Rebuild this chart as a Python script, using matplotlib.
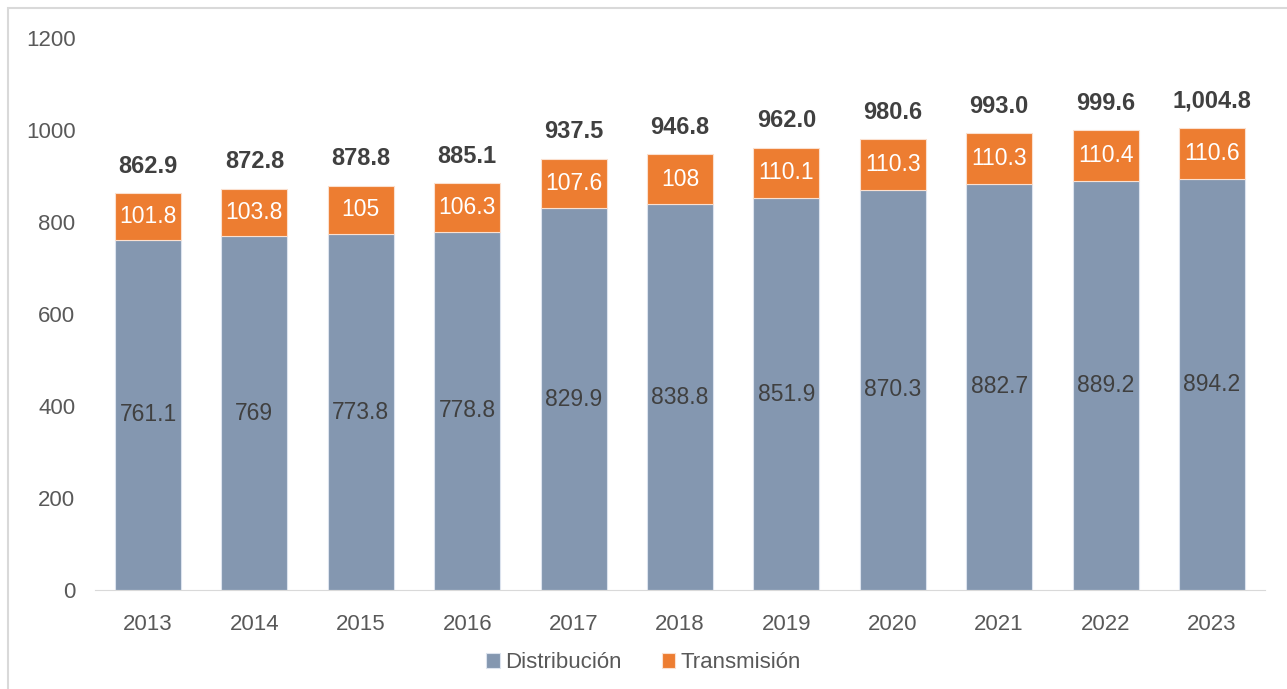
import matplotlib.pyplot as plt
from matplotlib.patches import Rectangle
import numpy as np

plt.rcParams["font.family"] = ["Liberation Sans", "DejaVu Sans"]

# data
years = ["2013", "2014", "2015", "2016", "2017", "2018", "2019", "2020", "2021", "2022", "2023"]
distribucion = [761.1, 769, 773.8, 778.8, 829.9, 838.8, 851.9, 870.3, 882.7, 889.2, 894.2]
transmision = [101.8, 103.8, 105, 106.3, 107.6, 108, 110.1, 110.3, 110.3, 110.4, 110.6]
totales = ["862.9", "872.8", "878.8", "885.1", "937.5", "946.8", "962.0", "980.6", "993.0", "999.6", "1,004.8"]

blue = "#8497B0"
orange = "#ED7D31"
gray = "#595959"

fig = plt.figure(figsize=(12.87, 6.89), dpi=100)
ax = fig.add_axes([0.0737, 0.1437, 0.9093, 0.8011])

x = np.arange(len(years))
w = 0.62
b1 = ax.bar(x, distribucion, w, color=blue, edgecolor="#DCE3EE", linewidth=0.8, label="Distribución")
b2 = ax.bar(x, transmision, w, bottom=distribucion, color=orange, edgecolor="#FBE0CF", linewidth=0.8,
            label="Transmisión")

for i in range(len(years)):
    d = distribucion[i]
    t = transmision[i]
    ax.text(x[i], d / 2, f"{d:g}", ha="center", va="center", fontsize=16.5, color="#404040")
    ax.text(x[i], d + t / 2, f"{t:g}", ha="center", va="center", fontsize=16.5, color="white")
    ax.annotate(totales[i], (x[i], d + t), xytext=(0, 11), textcoords="offset points",
                ha="center", va="bottom", fontsize=17, fontweight="bold", color="#404040")

ax.set_xlim(-0.5, len(years) - 0.5)
ax.set_ylim(0, 1200)
ax.set_yticks(range(0, 1201, 200))
ax.set_xticks(x)
ax.set_xticklabels(years)
ax.tick_params(axis="both", length=0, labelsize=16, labelcolor=gray)
ax.tick_params(axis="y", pad=14)
ax.tick_params(axis="x", pad=17)
for s in ["top", "right", "left"]:
    ax.spines[s].set_visible(False)
ax.spines["bottom"].set_color("#D9D9D9")

fig.legend(handles=[b1, b2], loc="center", bbox_to_anchor=(0.5, 0.038), ncol=2, frameon=False,
           fontsize=16, handlelength=0.6, handleheight=0.6, handletextpad=0.25, columnspacing=1.8,
           labelcolor=gray)

# outer chart border (right and bottom edges fall outside the picture)
fig.patches.append(Rectangle((0.0062, -0.05), 1.05, 0.988 + 0.05, transform=fig.transFigure,
                             fill=False, edgecolor="#D9D9D9", linewidth=1.5))

fig.savefig("out.png", dpi=100)
